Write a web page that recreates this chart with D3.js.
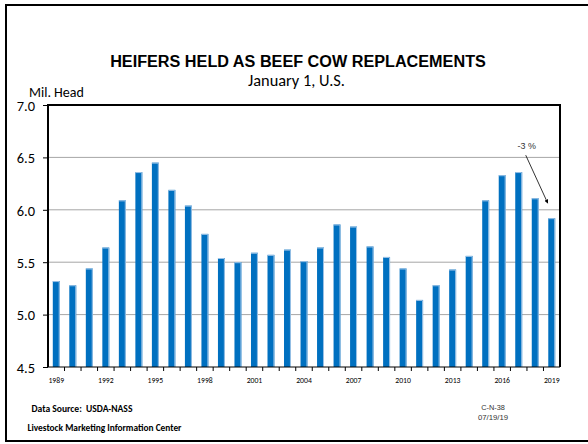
<!DOCTYPE html>
<html>
<head>
<meta charset="utf-8">
<script src="https://cdn.jsdelivr.net/npm/d3@7"></script>
<style>
  body { margin: 0; background: #fff; }
  svg { display: block; }
</style>
</head>
<body>
<div id="chart"></div>
<script>
// dados
var years = [1989, 1990, 1991, 1992, 1993, 1994, 1995, 1996, 1997, 1998,
             1999, 2000, 2001, 2002, 2003, 2004, 2005, 2006, 2007, 2008,
             2009, 2010, 2011, 2012, 2013, 2014, 2015, 2016, 2017, 2018, 2019];
var heifers = [5.32, 5.28, 5.44, 5.64, 6.09, 6.36, 6.45, 6.19, 6.04, 5.77,
               5.54, 5.50, 5.59, 5.57, 5.62, 5.51, 5.64, 5.86, 5.84, 5.65,
               5.55, 5.44, 5.14, 5.28, 5.43, 5.56, 6.09, 6.33, 6.36, 6.11, 5.92];
var yTicks = [4.5, 5.0, 5.5, 6.0, 6.5, 7.0];
var xLabels = [1989, 1992, 1995, 1998, 2001, 2004, 2007, 2010, 2013, 2016, 2019];
var annotText = '-3 %';

var W = 588, H = 444;
var plot = {left: 48, right: 560, top: 105, bottom: 367};
var barColor = '#0070c0';
var edgeColor = '#9dc3e6';
var calibri = 'Carlito, Calibri, Lato, sans-serif';
var arial = 'Liberation Sans, Arial, sans-serif';

// ajusta o tamanho da fonte para a largura medida na figura
function fitSize(sel, width)
{
    var node = sel.node();
    var size = parseFloat(sel.style('font-size'));
    var len = node.getComputedTextLength();
    var s = size * width / len;
    sel.style('font-size', s + 'px');
    return s;
}

var svg = d3.select('#chart').append('svg')
    .attr('width', W)
    .attr('height', H);

// moldura externa
svg.append('path')
    .attr('d', 'M600,5 H6 V441 H600')
    .attr('fill', 'none')
    .attr('stroke', '#000')
    .attr('stroke-width', 2);

var x = d3.scaleBand().domain(years).range([plot.left, plot.right]).paddingInner(0.58).paddingOuter(0.29);
var y = d3.scaleLinear().domain([4.5, 7.0]).range([plot.bottom, plot.top]);

// grade
svg.append('g')
    .selectAll('line')
    .data(yTicks.slice(1, 5))
    .enter().append('line')
    .attr('x1', plot.left)
    .attr('x2', plot.right)
    .attr('y1', function(d){ return y(d); })
    .attr('y2', function(d){ return y(d); })
    .attr('stroke', '#a6a6a6')
    .attr('stroke-width', 1);

// barras
var bars = svg.append('g');
bars.selectAll('rect.bar')
    .data(heifers)
    .enter().append('rect')
    .attr('class', 'bar')
    .attr('x', function(d, i){ return x(years[i]); })
    .attr('y', function(d){ return y(d); })
    .attr('width', x.bandwidth())
    .attr('height', function(d){ return y(4.5) - y(d); })
    .attr('fill', barColor);

// brilho no topo e lado direito
bars.selectAll('path.edge')
    .data(heifers)
    .enter().append('path')
    .attr('class', 'edge')
    .attr('d', function(d, i){
        var x0 = x(years[i]), x1 = x0 + x.bandwidth();
        return 'M' + x0 + ',' + (y(d) + 0.5) + ' H' + (x1 - 0.5) + ' V' + y(4.5);
    })
    .attr('fill', 'none')
    .attr('stroke', edgeColor)
    .attr('stroke-width', 1);

// eixo y
var yAxis = d3.axisLeft(y).tickValues(yTicks).tickSize(5).tickFormat(d3.format('.1f'));
var yg = svg.append('g')
    .attr('transform', 'translate(' + plot.left + ',0)')
    .call(yAxis);
yg.select('.domain').remove();
yg.selectAll('.tick line').attr('stroke', '#000');
yg.selectAll('.tick text')
    .attr('x', -13)
    .attr('dy', '0.36em')
    .style('font-family', calibri)
    .style('font-size', '13.5px')
    .attr('fill', '#000');
var ySize = fitSize(yg.select('.tick:last-of-type text'), 18.3);
yg.selectAll('.tick text').style('font-size', ySize + 'px');

// eixo x
var xEdges = years.map(function(d){ return x(d) - x.step() * x.paddingInner() / 2; }).slice(1);
var xg = svg.append('g')
    .attr('transform', 'translate(0,' + plot.bottom + ')');
xg.selectAll('line')
    .data(xEdges)
    .enter().append('line')
    .attr('x1', function(d){ return d; })
    .attr('x2', function(d){ return d; })
    .attr('y1', 0)
    .attr('y2', 4)
    .attr('stroke', '#000');
var xt = xg.selectAll('text')
    .data(xLabels)
    .enter().append('text')
    .attr('x', function(d){ return x(d) + x.bandwidth() / 2; })
    .attr('y', 15.5)
    .attr('text-anchor', 'middle')
    .style('font-family', calibri)
    .style('font-size', '9px')
    .text(function(d){ return d; });
var xSize = fitSize(d3.select(xt.node()), 15.6);
xt.style('font-size', xSize + 'px');

// moldura do grafico
svg.append('path')
    .attr('d', 'M' + plot.left + ',' + plot.bottom + ' V' + plot.top + ' H' + plot.right + ' V' + plot.bottom)
    .attr('fill', 'none')
    .attr('stroke', '#000')
    .attr('stroke-width', 2);
svg.append('line')
    .attr('x1', plot.left).attr('x2', plot.right)
    .attr('y1', plot.bottom).attr('y2', plot.bottom)
    .attr('stroke', '#000')
    .attr('stroke-width', 1);

// titulos
var title = svg.append('text')
    .attr('x', 298)
    .attr('y', 66.5)
    .attr('text-anchor', 'middle')
    .style('font-family', arial)
    .style('font-weight', 'bold')
    .style('font-size', '16px')
    .text('HEIFERS HELD AS BEEF COW REPLACEMENTS');
fitSize(title, 376);

var sub = svg.append('text')
    .attr('x', 296.5)
    .attr('y', 86)
    .attr('text-anchor', 'middle')
    .style('font-family', calibri)
    .style('font-size', '15px')
    .text('January 1, U.S.');
fitSize(sub, 97);

var unit = svg.append('text')
    .attr('x', 29)
    .attr('y', 97)
    .style('font-family', calibri)
    .style('font-size', '14px')
    .text('Mil. Head');
fitSize(unit, 55);

// anotacao
var last = heifers.length - 1;
var ax = x(years[last]) + x.bandwidth() / 2;
svg.append('defs').append('marker')
    .attr('id', 'arrow')
    .attr('viewBox', '0 0 10 10')
    .attr('refX', 9).attr('refY', 5)
    .attr('markerWidth', 5).attr('markerHeight', 5)
    .attr('orient', 'auto')
    .append('path')
    .attr('d', 'M0,0 L10,5 L0,10 z')
    .attr('fill', '#000');
svg.append('line')
    .attr('x1', ax - 26).attr('y1', y(heifers[last]) - 63)
    .attr('x2', ax - 4).attr('y2', y(heifers[last]) - 15)
    .attr('stroke', '#000')
    .attr('stroke-width', 0.8)
    .attr('marker-end', 'url(#arrow)');
var note = svg.append('text')
    .attr('x', ax - 25)
    .attr('y', y(heifers[last]) - 69)
    .attr('text-anchor', 'middle')
    .style('font-family', arial)
    .style('font-size', '8px')
    .attr('fill', '#333')
    .text(annotText);
fitSize(note, 18.4);

// rodape
var src = svg.append('text')
    .attr('x', 31.5).attr('y', 412)
    .style('font-family', calibri)
    .style('font-weight', 'bold')
    .style('font-size', '11px')
    .attr('xml:space', 'preserve')
    .text('Data Source:  USDA-NASS');
fitSize(src, 101);
var lmic = svg.append('text')
    .attr('x', 27.5).attr('y', 431)
    .style('font-family', calibri)
    .style('font-weight', 'bold')
    .style('font-size', '9px')
    .text('Livestock Marketing Information Center');
fitSize(lmic, 154);
var code = svg.append('text')
    .attr('x', 493).attr('y', 410)
    .attr('text-anchor', 'middle')
    .style('font-family', arial)
    .style('font-size', '7px')
    .attr('fill', '#333')
    .text('C-N-38');
fitSize(code, 23.7);
var date = svg.append('text')
    .attr('x', 493).attr('y', 420)
    .attr('text-anchor', 'middle')
    .style('font-family', arial)
    .style('font-size', '7px')
    .attr('fill', '#333')
    .text('07/19/19');
fitSize(date, 30.3);
</script>
</body>
</html>
